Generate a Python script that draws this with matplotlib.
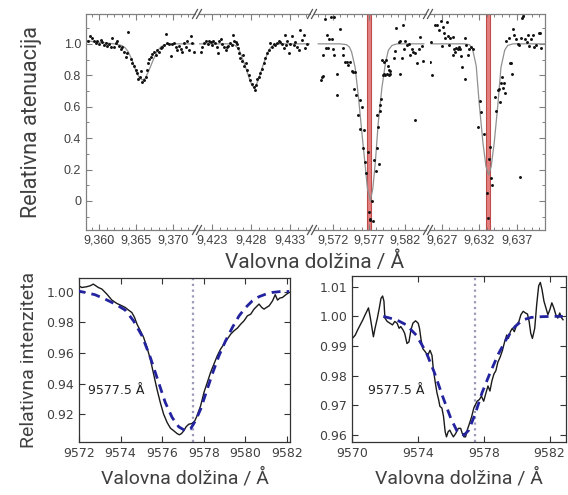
import matplotlib
matplotlib.use("Agg")
import matplotlib.pyplot as plt
from matplotlib.ticker import MultipleLocator, FuncFormatter, FixedLocator
from matplotlib.lines import Line2D

# ---- top panel: measured attenuation (points) and fitted profile (line), 4 windows
wl1 = [9358.47, 9358.74, 9359.06, 9359.28, 9359.51, 9359.73, 9359.96, 9360.18, 9360.41, 9360.63,
       9360.86, 9361.08, 9361.31, 9361.53, 9361.76, 9361.98, 9362.21, 9362.43, 9362.66, 9362.88,
       9363.11, 9363.34, 9363.56, 9363.79, 9363.92, 9364.24, 9364.46, 9364.69, 9364.91, 9365.14,
       9365.23, 9365.50, 9365.68, 9365.81, 9366.04, 9366.26, 9366.40, 9366.58, 9366.71, 9366.94,
       9367.16, 9367.39, 9367.61, 9367.84, 9368.06, 9368.29, 9368.52, 9368.74, 9368.97, 9369.19,
       9369.42, 9369.64, 9369.87, 9370.09, 9370.32, 9370.54, 9370.77, 9370.99, 9371.22, 9371.44,
       9371.67, 9371.89, 9372.12, 9372.34, 9372.57, 9372.79]
att1 = [1.015, 1.051, 1.036, 1.021, 1.004, 1.021, 1.000, 1.026, 1.009, 0.994,
        1.004, 0.987, 1.000, 0.983, 1.036, 0.979, 1.004, 1.015, 0.987, 0.966,
        0.979, 0.951, 0.915, 0.941, 1.074, 0.902, 0.877, 0.856, 0.835, 0.813,
        0.775, 0.792, 0.824, 0.760, 0.771, 0.792, 0.835, 0.877, 0.902, 0.919,
        0.936, 0.951, 0.930, 0.962, 0.945, 0.972, 0.983, 0.994, 1.064, 1.004,
        1.000, 0.924, 1.000, 1.004, 0.983, 0.962, 0.987, 0.966, 0.951, 1.004,
        0.983, 1.021, 0.962, 1.047, 1.004, 0.951]
fit_wl1 = [9358.2, 9360.0, 9362.0, 9363.0, 9363.5, 9363.9, 9364.4, 9365.0, 9365.4, 9365.8,
           9366.2, 9366.7, 9367.3, 9367.8, 9368.3, 9368.8, 9369.5, 9371.0, 9372.9]
fit1 = [1.02, 1.01, 1.0, 0.99, 0.975, 0.95, 0.90, 0.82, 0.785, 0.77,
        0.78, 0.83, 0.90, 0.95, 0.98, 0.995, 1.0, 1.0, 1.0]

wl2 = [9421.63, 9421.80, 9422.06, 9422.23, 9422.48, 9422.65, 9422.91, 9423.08, 9423.21, 9423.42,
       9423.64, 9423.77, 9423.94, 9424.19, 9424.36, 9424.62, 9424.79, 9424.92, 9425.13, 9425.35,
       9425.56, 9425.77, 9425.90, 9426.07, 9426.20, 9426.42, 9426.54, 9426.67, 9426.84, 9427.06,
       9427.18, 9427.36, 9427.53, 9427.70, 9427.91, 9428.12, 9428.34, 9428.47, 9428.64, 9428.81,
       9428.98, 9429.19, 9429.41, 9429.62, 9429.83, 9430.05, 9430.26, 9430.48, 9430.69, 9430.90,
       9431.12, 9431.33, 9431.54, 9431.76, 9431.97, 9432.18, 9432.31, 9432.48, 9432.65, 9432.83,
       9433.04, 9433.25, 9433.47, 9433.68, 9433.89, 9434.11, 9434.32, 9434.54, 9434.75, 9434.96,
       9435.18]
att2 = [0.951, 0.983, 1.004, 1.015, 1.000, 1.021, 1.009, 0.994, 1.021, 1.004,
        0.983, 0.941, 1.015, 1.030, 1.000, 0.983, 0.962, 0.979, 0.987, 1.004,
        0.994, 1.057, 1.015, 1.009, 1.000, 0.972, 0.941, 0.909, 0.888, 0.930,
        0.856, 0.877, 0.835, 0.803, 0.771, 0.745, 0.728, 0.707, 0.739, 0.775,
        0.792, 0.813, 0.839, 0.877, 0.909, 0.941, 0.962, 1.004, 0.983, 1.000,
        0.994, 1.004, 1.015, 1.009, 1.000, 0.972, 1.057, 0.994, 1.015, 0.941,
        1.000, 1.051, 0.994, 1.009, 0.983, 0.962, 1.089, 1.026, 1.057, 0.972,
        1.000]
fit_wl2 = [9421.4, 9424.0, 9425.5, 9426.0, 9426.3, 9426.6, 9427.2, 9427.8, 9428.1, 9428.4,
           9428.7, 9429.0, 9429.6, 9430.2, 9430.5, 9430.8, 9431.5, 9433.0, 9435.5]
fit2 = [1.0, 1.0, 1.0, 0.99, 0.975, 0.95, 0.87, 0.78, 0.74, 0.72,
        0.74, 0.78, 0.87, 0.95, 0.975, 0.99, 1.0, 1.0, 1.0]

wl3 = [9570.93, 9571.72, 9572.18, 9571.16, 9571.54, 9571.86, 9571.07, 9571.40, 9572.00, 9570.70,
       9572.18, 9573.02, 9573.39, 9573.48, 9570.47, 9570.33, 9570.61, 9572.55, 9573.71, 9573.94,
       9574.17, 9574.41, 9574.64, 9574.87, 9575.10, 9572.55, 9574.96, 9575.24, 9575.79, 9576.03,
       9575.56, 9575.79, 9576.26, 9576.12, 9576.49, 9576.63, 9576.81, 9577.00, 9577.09, 9577.18,
       9577.51, 9577.41, 9577.74, 9578.02, 9578.34, 9578.11, 9578.20, 9578.11, 9578.48, 9578.57,
       9578.66, 9578.94, 9579.13, 9579.27, 9579.50, 9579.73, 9579.96, 9579.13, 9579.41, 9579.59,
       9579.78, 9579.96, 9581.35, 9578.80, 9580.42, 9580.66, 9580.79, 9581.12, 9581.35, 9581.72,
       9581.58, 9581.91, 9582.04, 9582.28, 9582.51, 9582.74, 9582.97, 9583.11, 9583.43, 9583.66,
       9583.90, 9584.13, 9584.36, 9584.50, 9583.43]
att3 = [1.157, 1.172, 1.170, 1.055, 1.034, 1.034, 0.975, 0.975, 0.970, 0.932,
        0.928, 1.094, 0.975, 0.928, 0.790, 0.773, 0.796, 0.811, 0.886, 0.886,
        0.864, 0.886, 0.826, 0.822, 0.818, 0.673, 0.711, 0.677, 0.641, 0.599,
        0.546, 0.461, 0.450, 0.338, 0.249, 0.179, 0.312, -0.070, -0.117, -0.123,
        -0.129, -0.002, 0.259, 0.189, 0.238, 0.334, 0.472, 0.546, 0.571, 0.610,
        0.652, 0.801, 0.805, 0.801, 0.805, 0.801, 0.805, 0.886, 0.894, 0.860,
        0.832, 0.826, 0.805, 0.896, 0.907, 0.953, 1.098, 1.009, 1.017, 1.119,
        0.907, 0.966, 1.017, 0.992, 1.002, 0.928, 0.970, 0.945, 0.939, 0.875,
        0.970, 1.045, 0.987, 0.890, 0.514]
fit_wl3 = [9570.0, 9573.0, 9573.9, 9574.3, 9574.6, 9575.1, 9575.56, 9576.0, 9576.5, 9576.8,
           9577.2, 9577.55, 9577.9, 9578.3, 9578.8, 9579.3, 9579.7, 9580.2, 9580.9, 9584.6]
fit3 = [1.0, 1.0, 0.995, 0.98, 0.95, 0.85, 0.66, 0.45, 0.22, 0.08,
        0.0, 0.08, 0.25, 0.50, 0.72, 0.88, 0.96, 0.99, 1.0, 1.0]

wl4 = [9626.15, 9626.33, 9626.69, 9626.91, 9627.13, 9627.35, 9627.49, 9627.80, 9628.11, 9628.47,
       9627.67, 9625.44, 9625.71, 9625.58, 9627.04, 9627.93, 9628.69, 9628.91, 9629.13, 9629.35,
       9629.44, 9628.47, 9628.82, 9629.58, 9629.71, 9630.15, 9630.24, 9630.47, 9630.69, 9630.91,
       9631.13, 9630.15, 9631.80, 9632.11, 9632.24, 9632.60, 9633.00, 9633.13, 9633.35, 9633.44,
       9633.58, 9633.71, 9634.15, 9634.24, 9634.47, 9634.78, 9634.60, 9634.91, 9635.22, 9635.40,
       9635.04, 9635.35, 9636.11, 9636.24, 9636.38, 9637.44, 9635.58, 9635.93, 9636.55, 9636.69,
       9636.91, 9637.13, 9637.35, 9637.58, 9637.71, 9637.80, 9638.15, 9638.33, 9638.47, 9638.69,
       9638.91, 9639.13, 9639.35, 9639.58, 9639.93, 9640.11, 9640.24]
att4 = [1.123, 1.119, 1.087, 1.145, 1.108, 1.066, 1.038, 1.051, 1.038, 1.045,
        1.140, 0.886, 0.801, 1.009, 0.987, 0.992, 0.970, 0.975, 0.966, 0.981,
        0.970, 0.932, 0.945, 0.924, 0.854, 1.038, 0.992, 0.932, 0.970, 0.981,
        0.966, 0.775, 0.472, 0.635, 0.567, 0.423, 0.053, -0.108, 0.270, 0.344,
        0.147, 0.100, 0.663, 0.571, 0.705, 0.631, 0.711, 0.748, 0.720, 0.684,
        0.786, 0.748, 0.875, 0.881, 0.811, 0.153, 1.017, 1.038, 1.094, 1.055,
        1.030, 1.002, 0.992, 1.038, 1.166, 1.179, 1.034, 1.009, 1.055, 0.987,
        1.030, 1.055, 0.981, 0.992, 1.072, 1.066, 0.975]
fit_wl4 = [9625.6, 9630.0, 9630.7, 9631.1, 9631.6, 9632.0, 9632.5, 9632.9, 9633.25, 9633.6,
           9634.0, 9634.5, 9634.9, 9635.4, 9635.8, 9636.5, 9640.7]
fit4 = [1.0, 1.0, 0.995, 0.97, 0.86, 0.62, 0.37, 0.22, 0.165, 0.22,
        0.37, 0.62, 0.85, 0.96, 0.99, 1.0, 1.0]

seg_wl = [wl1, wl2, wl3, wl4]
seg_att = [att1, att2, att3, att4]
seg_fit_wl = [fit_wl1, fit_wl2, fit_wl3, fit_wl4]
seg_fit = [fit1, fit2, fit3, fit4]
seg_xlim = [(9358.2, 9372.93), (9421.38, 9435.55), (9569.41, 9584.9), (9625.44, 9640.77)]
seg_ticks = [[9360, 9365, 9370], [9423, 9428, 9433], [9572, 9577, 9582], [9627, 9632, 9637]]
line_pos = [None, None, 9577.0, 9633.2]

# ---- bottom left: observed spectrum vs model
bl_wl = [9571.94, 9572.13, 9572.37, 9572.53, 9572.69, 9572.81, 9572.93, 9573.10, 9573.34, 9573.58,
         9573.82, 9574.06, 9574.22, 9574.38, 9574.54, 9574.67, 9574.79, 9574.95, 9575.11, 9575.27,
         9575.43, 9575.59, 9575.75, 9575.91, 9576.07, 9576.24, 9576.40, 9576.56, 9576.72, 9576.83,
         9576.93, 9577.04, 9577.15, 9577.28, 9577.44, 9577.57, 9577.68, 9577.85, 9578.01, 9578.17,
         9578.33, 9578.49, 9578.65, 9578.81, 9578.97, 9579.13, 9579.30, 9579.46, 9579.62, 9579.78,
         9579.94, 9580.10, 9580.26, 9580.42, 9580.58, 9580.66, 9580.79, 9580.90, 9581.02, 9581.15,
         9581.31, 9581.44, 9581.55, 9581.66, 9581.79, 9581.95, 9582.11]
bl_obs = [1.0044, 1.0028, 1.0033, 1.0039, 1.0050, 1.0039, 1.0028, 1.0018, 0.9985, 0.9946,
          0.9924, 0.9909, 0.9898, 0.9881, 0.9865, 0.9833, 0.9789, 0.9746, 0.9702, 0.9637,
          0.9561, 0.9463, 0.9365, 0.9278, 0.9202, 0.9147, 0.9110, 0.9093, 0.9075, 0.9067,
          0.9075, 0.9093, 0.9119, 0.9136, 0.9141, 0.9158, 0.9191, 0.9256, 0.9343, 0.9408,
          0.9474, 0.9528, 0.9582, 0.9626, 0.9658, 0.9691, 0.9724, 0.9746, 0.9763, 0.9789,
          0.9811, 0.9843, 0.9854, 0.9887, 0.9909, 0.9920, 0.9898, 0.9887, 0.9898, 0.9909,
          0.9941, 0.9981, 0.9946, 0.9959, 0.9963, 0.9981, 0.9996]
bl_mod_wl = [9571.89, 9572.29, 9572.77, 9573.26, 9573.74, 9574.22, 9574.62, 9575.03, 9575.43, 9575.83,
             9576.15, 9576.48, 9576.80, 9577.12, 9577.36, 9577.60, 9577.85, 9578.09, 9578.41, 9578.73,
             9579.05, 9579.38, 9579.70, 9580.02, 9580.34, 9580.66, 9580.99, 9581.31, 9581.71, 9582.11]
bl_mod = [1.0007, 0.9996, 0.9981, 0.9952, 0.9920, 0.9881, 0.9811, 0.9713, 0.9572, 0.9408,
          0.9278, 0.9180, 0.9119, 0.9093, 0.9104, 0.9158, 0.9234, 0.9332, 0.9463, 0.9582,
          0.9680, 0.9768, 0.9843, 0.9898, 0.9941, 0.9968, 0.9985, 0.9996, 1.0002, 1.0002]

# ---- bottom right
br_wl = [9569.90, 9570.06, 9570.20, 9570.34, 9570.50, 9570.66, 9570.80, 9570.90, 9571.00, 9571.10,
         9571.20, 9571.30, 9571.40, 9571.54, 9571.66, 9571.76, 9571.86, 9571.94, 9572.00, 9572.14,
         9572.30, 9572.46, 9572.60, 9572.74, 9572.86, 9572.96, 9573.10, 9573.20, 9573.34, 9573.46,
         9573.58, 9573.70, 9573.86, 9574.02, 9574.10, 9574.20, 9574.30, 9574.46, 9574.60, 9574.74,
         9574.86, 9574.94, 9575.06, 9575.16, 9575.26, 9575.34, 9575.46, 9575.56, 9575.66, 9575.74,
         9575.84, 9575.94, 9576.04, 9576.16, 9576.30, 9576.46, 9576.60, 9576.70, 9576.80, 9576.90,
         9577.00, 9577.14, 9577.26, 9577.40, 9577.50, 9577.60, 9577.74, 9577.86, 9578.00, 9578.14,
         9578.26, 9578.38, 9578.50, 9578.62, 9578.74, 9578.86, 9579.00, 9579.14, 9579.26, 9579.40,
         9579.50, 9579.62, 9579.74, 9579.86, 9580.00, 9580.14, 9580.26, 9580.40, 9580.54, 9580.66,
         9580.76, 9580.86, 9580.96, 9581.10, 9581.22, 9581.34, 9581.44, 9581.54, 9581.66, 9581.78,
         9581.90, 9582.02, 9582.14, 9582.26, 9582.38, 9582.50, 9582.62, 9582.74, 9582.82]
br_obs = [0.99314, 0.99280, 0.99372, 0.99543, 0.99714, 0.99886, 1.00057, 1.00171, 1.00286, 1.00000,
          0.99657, 0.99314, 0.99600, 0.99943, 1.00286, 1.00606, 1.00686, 1.00514, 0.99943, 0.99829,
          0.99771, 0.99714, 0.99829, 0.99771, 0.99600, 0.99657, 0.99543, 0.99429, 0.99086, 0.99143,
          0.99543, 0.99771, 0.99851, 0.99771, 0.99600, 0.99200, 0.98914, 0.98800, 0.98686, 0.98857,
          0.98686, 0.98229, 0.97771, 0.97429, 0.97200, 0.96971, 0.96914, 0.96629, 0.96114, 0.95943,
          0.96114, 0.96171, 0.96057, 0.95943, 0.96057, 0.96229, 0.96229, 0.96057, 0.95943, 0.95943,
          0.96171, 0.96400, 0.96606, 0.96914, 0.97029, 0.97143, 0.97200, 0.97314, 0.97143, 0.97429,
          0.97657, 0.97486, 0.97829, 0.98057, 0.98171, 0.98457, 0.98629, 0.98857, 0.99120, 0.99372,
          0.99257, 0.99486, 0.99600, 0.99486, 0.99714, 0.99829, 1.00057, 1.00171, 1.00114, 1.00080,
          0.99829, 0.99429, 0.99257, 0.99600, 1.00400, 1.01029, 1.01143, 1.00914, 1.00514, 1.00286,
          1.00057, 1.00229, 1.00457, 1.00286, 1.00057, 0.99943, 1.00114, 0.99943, 0.99886]
br_mod_wl = [9571.90, 9572.70, 9573.30, 9573.90, 9574.50, 9575.00, 9575.50, 9576.00, 9576.40, 9576.80,
             9577.10, 9577.50, 9577.90, 9578.40, 9578.90, 9579.40, 9579.90, 9580.40, 9580.90, 9581.50,
             9582.10, 9582.80]
br_mod = [1.0000, 0.99886, 0.99714, 0.99371, 0.98800, 0.98114, 0.97314, 0.96571, 0.96114, 0.96000,
          0.96171, 0.96743, 0.97429, 0.98114, 0.98743, 0.99257, 0.99657, 0.99886, 0.99966, 0.99989,
          1.0, 1.0]
br_ticks = [9570, 9574, 9578, 9582]

line_label = "9577.5 Å"
W, H = 568, 495
txt = '#404040'

fig = plt.figure(figsize=(W / 100, H / 100), dpi=100)


def fbox(l, t, r, b):
    # pixel box -> figure fraction [left, bottom, width, height]
    return [l / W, 1 - b / H, (r - l) / W, (b - t) / H]


# ---------------- top panel ----------------
edges = [(86, 195), (199, 310), (314, 426), (430, 545)]
top_t, top_b = 14, 230
spc = '#808080'
for i in range(4):
    ax = fig.add_axes(fbox(edges[i][0], top_t, edges[i][1], top_b))
    ax.plot(seg_fit_wl[i], seg_fit[i], color='#909090', lw=0.9, zorder=2)
    ax.scatter(seg_wl[i], seg_att[i], s=4.5, color='#111111', lw=0, zorder=3)
    if line_pos[i] is not None:
        ax.axvspan(line_pos[i] - 0.3, line_pos[i] + 0.3, facecolor='#e27f7f',
                   edgecolor='#bf4a4a', lw=0.8, zorder=1)
    ax.set_xlim(seg_xlim[i])
    ax.set_ylim(-0.185, 1.19)
    ax.xaxis.set_major_locator(FixedLocator(seg_ticks[i]))
    ax.xaxis.set_minor_locator(MultipleLocator(1))
    ax.xaxis.set_major_formatter(FuncFormatter(lambda v, p: f"{v:,.0f}"))
    ax.yaxis.set_major_locator(MultipleLocator(0.2))
    ax.yaxis.set_minor_locator(MultipleLocator(0.1))
    ax.yaxis.set_major_formatter(FuncFormatter(lambda v, p: '0' if abs(v) < 1e-9 else f"{v:.1f}"))
    ax.tick_params(axis='both', which='both', direction='in', colors=spc,
                   labelcolor=txt, labelsize=9, top=True, left=(i == 0), right=(i == 3),
                   labelleft=(i == 0), labelright=False)
    ax.tick_params(which='major', length=4, width=0.8)
    ax.tick_params(which='minor', length=2, width=0.7)
    for lab in ax.get_xticklabels() + ax.get_yticklabels():
        lab.set_family('Liberation Sans')
    for s in ax.spines.values():
        s.set_color(spc)
        s.set_linewidth(0.9)
    ax.spines['left'].set_visible(i == 0)
    ax.spines['right'].set_visible(i == 3)
    ax.patch.set_alpha(0)
    if i == 0:
        ax.set_ylabel('Relativna atenuacija', fontsize=15.5, color=txt,
                      family='Roboto', labelpad=16)

# break marks "//"
for x in [195, 199, 310, 314, 426, 430]:
    for y in [top_t, top_b]:
        fig.add_artist(Line2D([(x - 2.5) / W, (x + 2.5) / W],
                              [1 - (y + 4.5) / H, 1 - (y - 4.5) / H],
                              color='#555555', lw=0.9))

fig.text(315 / W, 1 - 262 / H, 'Valovna dolžina / Å', ha='center', va='center',
         fontsize=15, color=txt, family='Roboto')

# ---------------- bottom panels ----------------
axl = fig.add_axes(fbox(79, 278, 290, 442))
axr = fig.add_axes(fbox(352, 276, 566, 442))

for ax, wl, obs, mwl, mod in [(axl, bl_wl, bl_obs, bl_mod_wl, bl_mod),
                              (axr, br_wl, br_obs, br_mod_wl, br_mod)]:
    ax.axvline(9577.5, color='#9a9ab8', lw=1.6, ls=(0, (1, 1.6)), zorder=1)
    ax.plot(wl, obs, color='#1a1a1a', lw=1.0, zorder=2)
    ax.plot(mwl, mod, color='#2323a0', lw=2.0, ls=(0, (3.2, 2.2)), zorder=3)
    ax.tick_params(axis='both', which='both', direction='in', top=True, right=True,
                   length=4, width=0.8, colors='#333333', labelsize=9, labelcolor=txt)
    for s in ax.spines.values():
        s.set_color('#333333')
        s.set_linewidth(0.9)
    ax.set_xlabel('Valovna dolžina / Å', fontsize=14, color=txt, family='Roboto', labelpad=6)

axl.set_xlim(9572, 9582.15)
axl.set_ylim(0.902, 1.009)
axl.xaxis.set_major_locator(MultipleLocator(2))
axl.yaxis.set_major_locator(MultipleLocator(0.02))
axl.yaxis.set_major_formatter(FuncFormatter(lambda v, p: f"{v:.2f}"))
axl.text(9572.45, 0.9358, line_label, ha='left', va='center', fontsize=9, color='#222222')
axl.set_ylabel('Relativna intenziteta', fontsize=14, color=txt, family='Roboto', labelpad=6)

axr.set_xlim(9570, 9583)
axr.set_ylim(0.9577, 1.0136)
axr.xaxis.set_major_locator(FixedLocator(br_ticks))
axr.yaxis.set_major_locator(MultipleLocator(0.01))
axr.yaxis.set_major_formatter(FuncFormatter(lambda v, p: f"{v:.2f}"))
axr.text(9571.0, 0.975, line_label, ha='left', va='center', fontsize=9, color='#222222')

fig.savefig('out.png', dpi=100)
